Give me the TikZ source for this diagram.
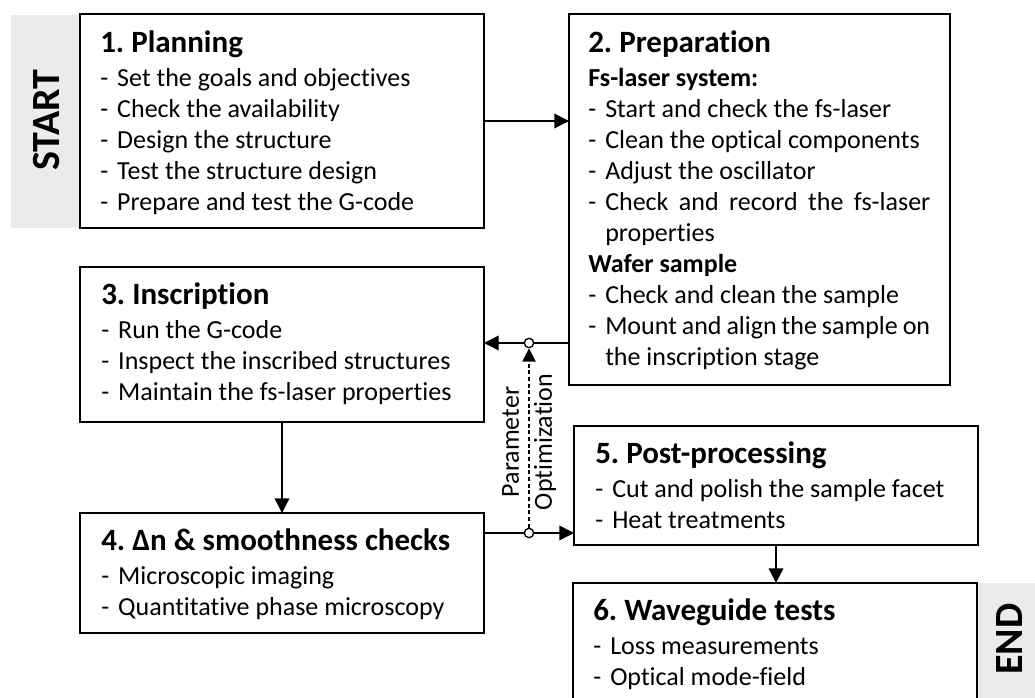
\documentclass[tikz,border=0pt]{standalone}
\usepackage{fontspec}
\setmainfont{Carlito}[Ligatures=NoCommon]
\usetikzlibrary{arrows.meta}
\definecolor{bargray}{HTML}{EBEBEB}
\frenchspacing
\newcommand\itm{\makebox[12.75pt][l]{-}}
\newcommand\ttl[1]{{\fontsize{23.25pt}{23.25pt}\selectfont\bfseries #1}\\[2.25pt]}
\newcommand\subttl[1]{{\bfseries #1}\\}
\begin{document}
\begin{tikzpicture}[x=0.75pt,y=-0.75pt,
  box/.style={draw, line width=2pt, minimum width=303pt, inner sep=0pt, outer sep=0pt},
  txt/.style={anchor=base west, inner sep=0pt, font=\fontsize{19.5pt}{23.25pt}\selectfont},
  arr/.style={line width=1pt, -{Triangle[length=11pt,width=11pt]}},
  darr/.style={line width=1pt, dash pattern=on 3pt off 2pt, -{Triangle[length=10pt,width=10pt]}},
  ln/.style={line width=1pt},
  dot/.style={circle, draw, fill=white, line width=1pt, minimum size=7pt, inner sep=0pt},
  graybar/.style={fill=bargray, draw=none},
  bigtxt/.style={font=\fontsize{30pt}{30pt}\selectfont\bfseries, rotate=90, inner sep=0pt}]
\useasboundingbox (0,0) rectangle (1035,698);
\clip (0,0) rectangle (1035,698);

% gray bars
\fill[graybar] (11,15) rectangle (80,228);
\fill[graybar] (977,583) rectangle (1040,710);
\node[bigtxt] (start) at (47,120) {START};
\node[bigtxt] (end) at (1010,639) {END};

% boxes
\node[box, minimum height=160.5pt] (b1) at (282,121) {};
\node[box, minimum width=285.75pt, minimum height=278.25pt] (b2) at (759.5,199.5) {};
\node[box, minimum height=116.25pt] (b3) at (282,344.5) {};
\node[box, minimum height=90pt] (b4) at (282,573) {};
\node[box, minimum height=89.25pt] (b5) at (776,485.5) {};
\node[box, minimum height=95.25pt] (b6) at (775,646.5) {};

% texts
\node[txt] (t1) at (100,53) {\parbox[t]{290pt}{\raggedright
\ttl{1. Planning}
\itm Set the goals and objectives\\
\itm Check the availability\\
\itm Design the structure\\
\itm Test the structure design\\
\itm Prepare and test the G-code}};

\node[txt] (t2) at (588,53) {\parbox[t]{270pt}{\raggedright
\ttl{2. Preparation}
\subttl{Fs-laser system:}
\itm Start and check the fs-laser\\
\itm Clean the optical components\\
\itm Adjust the oscillator\\
\itm\makebox[243.75pt][s]{Check and record the fs-laser}\\
\hspace*{12.75pt}properties\\
\subttl{Wafer sample}
\itm Check and clean the sample\\
\itm\makebox[243.75pt][s]{Mount and align the sample on}\\
\hspace*{12.75pt}the inscription stage}};

\node[txt] (t3) at (101,305) {\parbox[t]{290pt}{\raggedright
\ttl{3. Inscription}
\itm Run the G-code\\
\itm Inspect the inscribed structures\\
\itm Maintain the fs-laser properties}};

\node[txt] (t4) at (101,550) {\parbox[t]{290pt}{\raggedright
\ttl{4. Δn \& smoothness checks}
\itm Microscopic imaging\\
\itm Quantitative phase microscopy}};

\node[txt] (t5) at (595,463) {\parbox[t]{290pt}{\raggedright
\ttl{5. Post-processing}
\itm Cut and polish the sample facet\\
\itm Heat treatments}};

\node[txt] (t6) at (593,620) {\parbox[t]{290pt}{\raggedright
\ttl{6. Waveguide tests}
\itm Loss measurements\\
\itm Optical mode-field}};

% junction points
\coordinate (p1) at (529,343);
\coordinate (p2) at (529,533);

% connectors
\draw[arr] (b1.east) -- (b1.east -| b2.west);
\draw[arr] (b3.south) -- (b4.north);
\draw[arr] (b5.south) -- (b5.south |- b6.north);
\draw[ln] (p1 -| b2.west) -- (p1);
\draw[arr] (p1) -- (p1 -| b3.east);
\draw[ln] (p2 -| b4.east) -- (p2);
\draw[arr] (p2) -- (p2 -| b5.west);

\node[dot] (c1) at (p1) {};
\node[dot] (c2) at (p2) {};
\draw[darr] (c2.north) -- (c1.south);

\node[rotate=90, align=center, inner sep=0pt, font=\fontsize{19.5pt}{23.25pt}\selectfont] (param) at (529,442) {Parameter\\[1.5pt]Optimization};
\end{tikzpicture}
\end{document}
